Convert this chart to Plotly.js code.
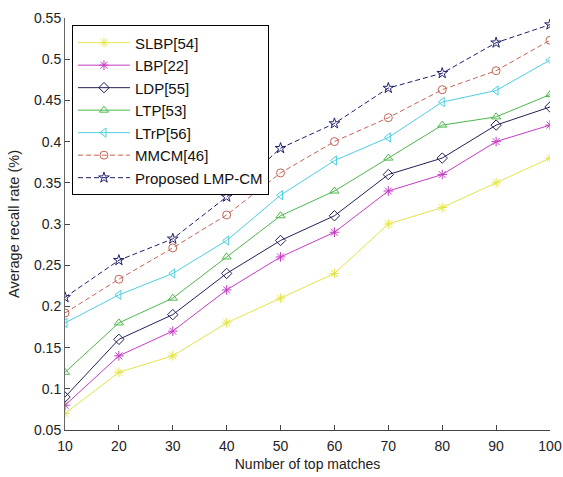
<!DOCTYPE html>
<html>
<head>
<meta charset="utf-8">
<script src="https://cdn.plot.ly/plotly-3.0.1.min.js"></script>
<style>html,body{margin:0;padding:0;background:#fff;}#chart{width:563px;height:477px;}</style>
</head>
<body>
<div id="chart"></div>
<script>
var topMatches = [10, 20, 30, 40, 50, 60, 70, 80, 90, 100];
var slbp     = [0.07, 0.12, 0.14, 0.18, 0.21, 0.24, 0.30, 0.32, 0.35, 0.38];
var lbp      = [0.08, 0.14, 0.17, 0.22, 0.26, 0.29, 0.34, 0.36, 0.40, 0.42];
var ldp      = [0.09, 0.16, 0.19, 0.24, 0.28, 0.31, 0.36, 0.38, 0.42, 0.442];
var ltp      = [0.12, 0.18, 0.21, 0.26, 0.31, 0.34, 0.38, 0.42, 0.43, 0.457];
var ltrp     = [0.18, 0.214, 0.24, 0.28, 0.335, 0.377, 0.405, 0.448, 0.462, 0.499];
var mmcm     = [0.192, 0.233, 0.271, 0.311, 0.362, 0.40, 0.429, 0.463, 0.486, 0.523];
var proposed = [0.211, 0.256, 0.282, 0.333, 0.392, 0.422, 0.465, 0.483, 0.52, 0.542];
var names = ["SLBP[54]", "LBP[22]", "LDP[55]", "LTP[53]", "LTrP[56]", "MMCM[46]", "Proposed LMP-CM"];
var yTickVals = [0.05, 0.1, 0.15, 0.2, 0.25, 0.3, 0.35, 0.4, 0.45, 0.5, 0.55];
var yTickText = ["0.05", "0.1", "0.15", "0.2", "0.25", "0.3", "0.35", "0.4", "0.45", "0.5", "0.55"];
var xTickVals = [10, 20, 30, 40, 50, 60, 70, 80, 90, 100];

var series = [slbp, lbp, ldp, ltp, ltrp, mmcm, proposed];
var colors = ["#e4e448", "#c43cc4", "#22225a", "#4cb84c", "#4ccfe0", "#c46455", "#1e1e6e"];
var symbols = ["asterisk-open", "asterisk-open", "diamond-open", "triangle-up-open", "triangle-left-open", "circle-open", "star-open"];
var dashes = ["solid", "solid", "solid", "solid", "solid", "5px,3px", "5px,3px"];

var traces = series.map(function (s, i) {
  return {
    x: topMatches, y: s, name: names[i], type: "scatter", mode: "lines+markers",
    line: {color: colors[i], width: 1, dash: dashes[i]},
    marker: {symbol: symbols[i], size: 8, color: colors[i], line: {color: colors[i], width: 1}}
  };
});

var layout = {
  width: 563, height: 477,
  margin: {l: 65, r: 13, t: 17.5, b: 47},
  paper_bgcolor: "#fff", plot_bgcolor: "#fff",
  font: {family: "Liberation Sans, Arial, sans-serif", size: 14, color: "#222"},
  showlegend: true,
  legend: {x: 0.0144, y: 0.982, xanchor: "left", yanchor: "top",
    bgcolor: "#fff", bordercolor: "#000", borderwidth: 1, itemwidth: 52,
    font: {size: 15, color: "#111"}},
  xaxis: {range: [10, 100], tickvals: xTickVals, ticks: "inside", ticklen: 5,
    tickcolor: "#444", showline: true, linecolor: "#444", linewidth: 1,
    showgrid: false, zeroline: false, tickfont: {size: 14}, ticklabelstandoff: 3,
    title: {text: "Number of top matches", font: {size: 14}, standoff: 6}},
  yaxis: {range: [0.05, 0.55], tickvals: yTickVals, ticktext: yTickText,
    ticks: "inside", ticklen: 5, tickcolor: "#444", showline: true,
    linecolor: "#666", linewidth: 1, showgrid: false, zeroline: false,
    tickfont: {size: 14},
    title: {text: "Average recall rate (%)", font: {size: 14.5}, standoff: 10}}
};

Plotly.newPlot("chart", traces, layout, {displayModeBar: false, staticPlot: true});
</script>
</body>
</html>
